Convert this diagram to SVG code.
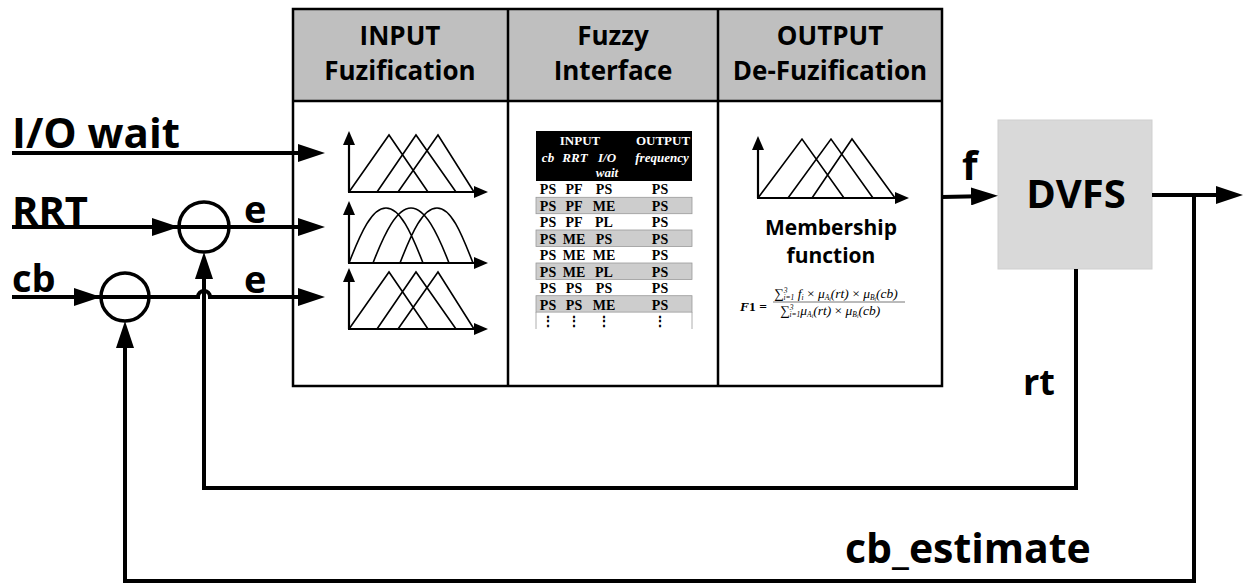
<svg xmlns="http://www.w3.org/2000/svg" width="1244" height="584" viewBox="0 0 1244 584">
<defs>
<marker id="arr" markerUnits="userSpaceOnUse" markerWidth="27" markerHeight="18" refX="19" refY="9" orient="auto"><path d="M0,0 L27,9 L0,18 z" fill="#000"/></marker>
<marker id="ax" markerUnits="userSpaceOnUse" markerWidth="14" markerHeight="12" refX="9" refY="6" orient="auto"><path d="M0,0 L14,6 L0,12 z" fill="#000"/></marker>
</defs>
<style>
.lbl{font-family:"Open Sans","Liberation Sans",sans-serif;font-weight:700;fill:#000}
.hdr{font-family:"Open Sans","Liberation Sans",sans-serif;font-weight:700;font-size:26px;text-anchor:middle}
.conn{fill:none;stroke:#000;stroke-width:4;stroke-linejoin:miter}
.axis{fill:none;stroke:#000;stroke-width:2.2}
.mf{fill:none;stroke:#000;stroke-width:1.6;stroke-linejoin:miter}
.sum{fill:none;stroke:#000;stroke-width:3.5}
.tb{font-family:"Liberation Serif","Times New Roman",serif;font-weight:700;font-size:14px;text-anchor:middle}
.th{font-family:"Liberation Serif","Times New Roman",serif;font-weight:700;font-size:13px;text-anchor:middle;fill:#fff}
.fx{font-family:"Liberation Serif","Times New Roman",serif;font-style:italic;font-size:13.5px}
</style>
<rect width="1244" height="584" fill="#fff"/>

<g id="fuzzy-controller">
<rect x="293" y="9" width="649" height="92" fill="#bfbfbf"/>
<rect x="293" y="9" width="649" height="377" fill="none" stroke="#000" stroke-width="2.5"/>
<line x1="293" y1="101" x2="942" y2="101" stroke="#000" stroke-width="2.5"/>
<line x1="508" y1="9" x2="508" y2="386" stroke="#000" stroke-width="2.5"/>
<line x1="718" y1="9" x2="718" y2="386" stroke="#000" stroke-width="2.5"/>
</g>

<g id="input-fuzification">
<text class="hdr" x="400" y="45">INPUT</text>
<text class="hdr" x="400" y="80">Fuzification</text>
<line class="axis" x1="349" y1="192" x2="349" y2="136" marker-end="url(#ax)"/>
<line class="axis" x1="348" y1="192" x2="483" y2="192" marker-end="url(#ax)"/>
<path class="mf" d="M349,192 L389,135 L428,192 M377,192 L416,135 L456,192 M398,192 L438,135 L474,192"/>
<line class="axis" x1="349" y1="263" x2="349" y2="206" marker-end="url(#ax)"/>
<line class="axis" x1="348" y1="263" x2="483" y2="263" marker-end="url(#ax)"/>
<path class="mf" d="M349,263 C361,232 372,208 386,208 C400,208 411,232 423,263 M373,263 C385,232 397,208 411,208 C425,208 437,232 449,263 M400,263 C412,232 423,208 437,208 C451,208 461,232 473,263"/>
<line class="axis" x1="349" y1="329" x2="349" y2="273" marker-end="url(#ax)"/>
<line class="axis" x1="348" y1="329" x2="483" y2="329" marker-end="url(#ax)"/>
<path class="mf" d="M349,329 L389,272 L428,329 M377,329 L416,272 L456,329 M398,329 L438,272 L474,329"/>
</g>

<g id="fuzzy-interface">
<text class="hdr" x="613" y="45">Fuzzy</text>
<text class="hdr" x="613" y="80">Interface</text>
<rect x="536" y="131" width="156" height="50" fill="#000"/>
<text class="th" x="580" y="145">INPUT</text>
<text class="th" x="663" y="145">OUTPUT</text>
<g font-style="italic">
<text class="th" x="548" y="162">cb</text>
<text class="th" x="575" y="162">RRT</text>
<text class="th" x="607" y="162">I/O</text>
<text class="th" x="662" y="162">frequency</text>
<text class="th" x="607" y="177">wait</text>
</g>
<g fill="#cdcdcd" stroke="#999" stroke-width="0.8">
<rect x="536" y="197.3" width="156" height="16.4"/>
<rect x="536" y="230" width="156" height="16.4"/>
<rect x="536" y="263" width="156" height="16.4"/>
<rect x="536" y="295.7" width="156" height="16.4"/>
</g>
<line x1="536" y1="312" x2="536" y2="329" stroke="#999" stroke-width="0.8"/>
<line x1="692" y1="312" x2="692" y2="329" stroke="#999" stroke-width="0.8"/>
<g class="tb">
<text x="548" y="194">PS</text><text x="574" y="194">PF</text><text x="604" y="194">PS</text><text x="660" y="194">PS</text>
<text x="548" y="211">PS</text><text x="574" y="211">PF</text><text x="604" y="211">ME</text><text x="660" y="211">PS</text>
<text x="548" y="227">PS</text><text x="574" y="227">PF</text><text x="604" y="227">PL</text><text x="660" y="227">PS</text>
<text x="548" y="244">PS</text><text x="574" y="244">ME</text><text x="604" y="244">PS</text><text x="660" y="244">PS</text>
<text x="548" y="260">PS</text><text x="574" y="260">ME</text><text x="604" y="260">ME</text><text x="660" y="260">PS</text>
<text x="548" y="277">PS</text><text x="574" y="277">ME</text><text x="604" y="277">PL</text><text x="660" y="277">PS</text>
<text x="548" y="293">PS</text><text x="574" y="293">PS</text><text x="604" y="293">PS</text><text x="660" y="293">PS</text>
<text x="548" y="310">PS</text><text x="574" y="310">PS</text><text x="604" y="310">ME</text><text x="660" y="310">PS</text>
<text x="548" y="326">⋮</text><text x="574" y="326">⋮</text><text x="604" y="326">⋮</text><text x="660" y="326">⋮</text>
</g>
</g>

<g id="output-defuzification">
<text class="hdr" x="830" y="45">OUTPUT</text>
<text class="hdr" x="830" y="80">De-Fuzification</text>
<line class="axis" x1="758" y1="198" x2="758" y2="141" marker-end="url(#ax)"/>
<line class="axis" x1="757" y1="198" x2="904" y2="198" marker-end="url(#ax)"/>
<path class="mf" d="M758,198 L802,139 L844,198 M788,198 L831,139 L873,198 M812,198 L852,139 L895,198"/>
<text class="lbl" x="831" y="235" font-size="21" text-anchor="middle">Membership</text>
<text class="lbl" x="831" y="263" font-size="21" text-anchor="middle">function</text>
<text class="fx" x="740" y="311" font-weight="700">F<tspan font-style="normal">1 =</tspan></text>
<line x1="773" y1="302" x2="905" y2="302" stroke="#666" stroke-width="0.9"/>
<text class="fx" x="774" y="298">∑<tspan font-size="7.5" dy="-5">3</tspan><tspan font-size="7.5" dx="-4" dy="7">i=1</tspan><tspan dy="-2"> f</tspan><tspan font-size="7.5" dy="2">i</tspan><tspan dy="-2" font-style="normal"> × </tspan>μ<tspan font-size="7.5" dy="2">A</tspan><tspan font-size="5.5" dy="1">i</tspan><tspan dy="-3">(rt)</tspan><tspan font-style="normal"> × </tspan>μ<tspan font-size="7.5" dy="2">B</tspan><tspan font-size="5.5" dy="1">i</tspan><tspan dy="-3">(cb)</tspan></text>
<text class="fx" x="780" y="315">∑<tspan font-size="7.5" dy="-5">3</tspan><tspan font-size="7.5" dx="-4" dy="7">i=1</tspan><tspan dy="-2">μ</tspan><tspan font-size="7.5" dy="2">A</tspan><tspan font-size="5.5" dy="1">i</tspan><tspan dy="-3">(rt)</tspan><tspan font-style="normal"> × </tspan>μ<tspan font-size="7.5" dy="2">B</tspan><tspan font-size="5.5" dy="1">i</tspan><tspan dy="-3">(cb)</tspan></text>
</g>

<g id="dvfs">
<rect x="998" y="120" width="154" height="149" fill="#d9d9d9" stroke="#cfcfcf" stroke-width="1"/>
<text class="lbl" x="1076" y="208" font-size="40" text-anchor="middle">DVFS</text>
</g>

<g id="sum-rrt">
<circle class="sum" cx="204" cy="227" r="25"/>
</g>
<g id="sum-cb">
<circle class="sum" cx="125" cy="297" r="24"/>
</g>

<g id="connectors">
<line class="conn" x1="12" y1="153" x2="317" y2="153" marker-end="url(#arr)"/>
<line class="conn" x1="12" y1="227" x2="171" y2="227" marker-end="url(#arr)"/>
<line class="conn" x1="171" y1="227" x2="317" y2="227" marker-end="url(#arr)"/>
<line class="conn" x1="12" y1="297" x2="93" y2="297" marker-end="url(#arr)"/>
<path class="conn" d="M93,297 L198,297 A6,6 0 0 1 210,297 L317,297" marker-end="url(#arr)"/>
<line class="conn" x1="942" y1="197" x2="990" y2="196" marker-end="url(#arr)"/>
<line class="conn" x1="1152" y1="195" x2="1235" y2="195" marker-end="url(#arr)"/>
<polyline class="conn" points="1076,269 1076,488 204,488 204,260" marker-end="url(#arr)"/>
<polyline class="conn" points="1194,195 1194,581 125,581 125,329" marker-end="url(#arr)"/>
</g>

<g id="labels">
<text class="lbl" x="12" y="148" font-size="42">I/O wait</text>
<text class="lbl" x="12" y="225" font-size="40">RRT</text>
<text class="lbl" x="12" y="292" font-size="38">cb</text>
<text class="lbl" x="244" y="223" font-size="38">e</text>
<text class="lbl" x="244" y="293" font-size="38">e</text>
<text class="lbl" x="962" y="180" font-size="40">f</text>
<text class="lbl" x="1023" y="395" font-size="36">rt</text>
<text class="lbl" x="845" y="563" font-size="41">cb_estimate</text>
</g>
</svg>
